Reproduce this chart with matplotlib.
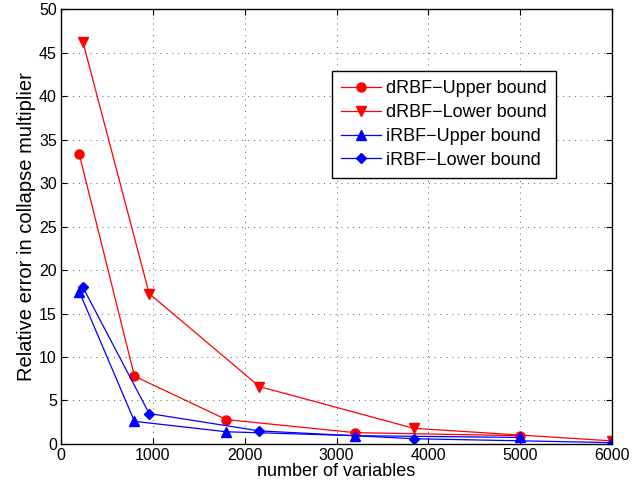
import numpy as np
import matplotlib
matplotlib.use('Agg')
import matplotlib.pyplot as plt

plt.rcParams['font.family'] = ['Liberation Sans', 'DejaVu Sans']
plt.rcParams['font.size'] = 11.5

# data
x_up = [200, 800, 1800, 3200, 5000]
x_low = [240, 960, 2160, 3840, 6000]
drbf_upper = [33.3, 7.8, 2.8, 1.3, 0.95]
drbf_lower = [46.2, 17.3, 6.6, 1.8, 0.35]
irbf_upper = [17.5, 2.6, 1.4, 0.95, 0.75]
irbf_lower = [18.0, 3.5, 1.5, 0.6, 0.15]
labels = ['dRBF\u2212Upper bound', 'dRBF\u2212Lower bound',
          'iRBF\u2212Upper bound', 'iRBF\u2212Lower bound']

fig = plt.figure(figsize=(6.35, 4.9), dpi=100)
ax = fig.add_axes([0.096, 0.094, 0.868, 0.887])

ax.plot(x_up, drbf_upper, 'r-o', lw=0.9, ms=6.5, label=labels[0])
ax.plot(x_low, drbf_lower, 'r-v', lw=0.9, ms=7, label=labels[1])
ax.plot(x_up, irbf_upper, 'b-^', lw=0.9, ms=7, label=labels[2])
ax.plot(x_low, irbf_lower, 'b-D', lw=0.9, ms=5.5, label=labels[3])

ax.set_xlim(0, 6000)
ax.set_ylim(0, 50)
ax.set_xticks(range(0, 6001, 1000))
ax.set_yticks(range(0, 51, 5))
ax.grid(True, ls=(0, (1, 5)), color='0.35', lw=0.7)
ax.tick_params(direction='in', top=True, right=True, length=4, pad=3)
for s in ax.spines.values():
    s.set_linewidth(1.0)

ax.set_xlabel('number of variables', fontsize=13, labelpad=0)
ax.set_ylabel('Relative error in collapse multiplier', fontsize=14.5, labelpad=2)

leg = ax.legend(loc='upper right', bbox_to_anchor=(0.898, 0.857), borderaxespad=0,
                fancybox=False, framealpha=1, edgecolor='k', fontsize=13,
                handlelength=2.2, borderpad=0.5, labelspacing=0.37,
                handletextpad=0.3)
leg.get_frame().set_linewidth(1.0)

fig.savefig('out.png', dpi=100)
